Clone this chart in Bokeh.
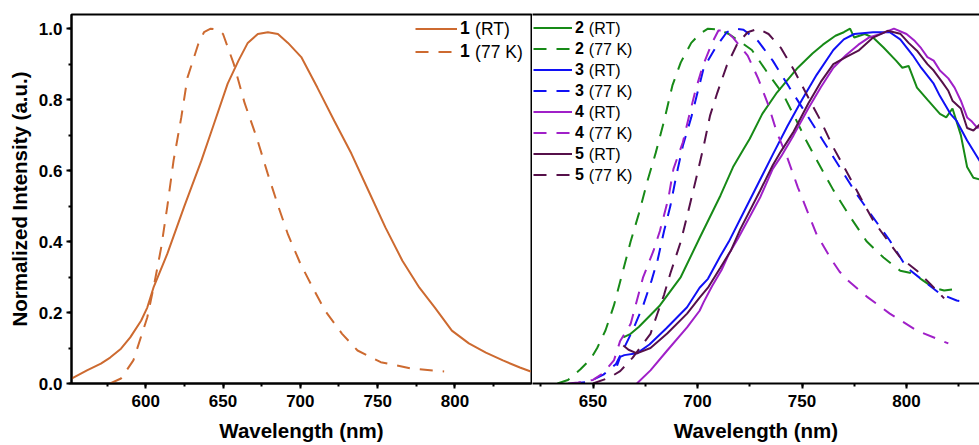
from bokeh.plotting import figure
from bokeh.models import (Range1d, SingleIntervalTicker, NumeralTickFormatter, Legend,
                          LegendItem, Label, LinearAxis, FixedTicker)
from bokeh.layouts import row
from bokeh.embed import file_html
from bokeh.resources import INLINE

# ---------------- data (wavelength nm, normalized intensity) ----------------
wl_1_rt = [552, 562, 571, 577, 584, 590, 597, 601, 605, 614, 625, 636, 644, 653, 660, 666,
           672.5, 679, 685.5, 692, 700.6, 711, 722, 733, 744, 755, 766, 777, 787, 798, 809,
           820, 831, 842, 849]
in_1_rt = [0.014, 0.037, 0.056, 0.073, 0.098, 0.13, 0.177, 0.214, 0.27, 0.366, 0.50, 0.628,
           0.73, 0.845, 0.91, 0.96, 0.985, 0.99, 0.985, 0.96, 0.92, 0.834, 0.74, 0.648,
           0.544, 0.44, 0.346, 0.27, 0.214, 0.149, 0.113, 0.087, 0.065, 0.045, 0.034]

wl_1_77 = [577, 584, 592, 601, 605.5, 610, 614, 618, 623, 627, 634, 637.7, 642, 646.8, 650,
           657, 664, 672, 679, 686, 692, 700, 709, 716, 727, 737, 752, 772, 793]
in_1_77 = [0.0, 0.014, 0.065, 0.186, 0.28, 0.383, 0.50, 0.628, 0.75, 0.862, 0.957, 0.99,
           1.0, 0.997, 0.985, 0.90, 0.79, 0.69, 0.59, 0.496, 0.42, 0.338, 0.262, 0.205,
           0.14, 0.093, 0.06, 0.042, 0.034]

wl_2_rt = [664.5, 668, 672, 682, 692, 701, 706, 711, 717, 722, 725, 731, 738, 748, 755,
           760, 766, 770, 773, 775, 780, 784, 789, 795, 798, 801, 805, 810, 816, 819, 822,
           826, 829, 832, 835, 840]
in_2_rt = [0.13, 0.14, 0.16, 0.22, 0.30, 0.41, 0.47, 0.53, 0.61, 0.66, 0.69, 0.76, 0.82,
           0.89, 0.93, 0.955, 0.98, 0.99, 1.0, 0.975, 0.985, 0.975, 0.947, 0.91, 0.89,
           0.895, 0.834, 0.80, 0.76, 0.75, 0.775, 0.70, 0.61, 0.58, 0.575, 0.57]

wl_2_77 = [633, 638, 644, 649, 652, 656, 660, 664, 668, 672, 676, 680, 684, 688, 692, 697,
           701, 705, 710, 715, 720, 726, 733, 741, 747, 752, 757, 765, 773, 781, 789, 797,
           803, 808, 813, 818, 824]
in_2_77 = [0.0, 0.01, 0.04, 0.07, 0.10, 0.15, 0.22, 0.31, 0.40, 0.48, 0.57, 0.65, 0.74,
           0.84, 0.905, 0.96, 0.985, 1.0, 0.998, 0.985, 0.965, 0.94, 0.88, 0.815, 0.745,
           0.685, 0.63, 0.545, 0.47, 0.40, 0.355, 0.318, 0.31, 0.29, 0.27, 0.262, 0.267]

wl_3_rt = [661.5, 663, 665, 671, 677, 685, 695, 701, 705, 711, 715, 721, 730, 736, 743,
           750, 757, 765, 770, 775, 784, 792, 797, 803, 807, 813, 816, 821, 824, 829, 834, 840]
in_3_rt = [0.05, 0.075, 0.08, 0.085, 0.11, 0.155, 0.215, 0.27, 0.295, 0.36, 0.40, 0.47,
           0.575, 0.645, 0.725, 0.80, 0.87, 0.94, 0.97, 0.985, 0.99, 0.99, 0.97, 0.925,
           0.89, 0.845, 0.81, 0.76, 0.74, 0.685, 0.637, 0.58]

wl_3_77 = [640, 648, 655, 661, 664, 669, 674, 678, 681, 684, 687, 690, 693, 697, 700, 703,
           709, 714, 718, 722, 729, 736, 744, 752, 760, 768, 776, 784, 792, 800, 808, 816,
           824, 828]
in_3_77 = [0.0, 0.005, 0.025, 0.055, 0.09, 0.15, 0.22, 0.29, 0.35, 0.43, 0.50, 0.59, 0.67,
           0.75, 0.82, 0.89, 0.95, 0.99, 1.0, 0.997, 0.965, 0.91, 0.834, 0.76, 0.685, 0.61,
           0.535, 0.468, 0.403, 0.327, 0.29, 0.253, 0.234, 0.23]

wl_4_rt = [671, 677.5, 685.5, 695, 701, 703, 707, 711.5, 715, 719.5, 725, 730, 736, 740,
           746, 753, 759, 765, 771, 777, 782, 788, 794, 800, 804, 807, 810, 813, 816, 820,
           823, 826, 829, 831, 834, 836, 840]
in_4_rt = [0.0, 0.037, 0.093, 0.158, 0.205, 0.23, 0.275, 0.32, 0.365, 0.41, 0.47, 0.525,
           0.605, 0.64, 0.70, 0.775, 0.835, 0.89, 0.925, 0.955, 0.975, 0.986, 1.0, 0.985,
           0.965, 0.945, 0.92, 0.91, 0.882, 0.86, 0.834, 0.797, 0.75, 0.74, 0.72, 0.73, 0.70]

wl_4_77 = [638, 643, 650, 655, 660, 663, 668, 671, 674, 679, 682, 686, 688.5, 693, 696,
           699, 702.5, 707, 710, 713, 717, 724, 729, 734, 738, 741, 743, 748, 753, 757, 764,
           768, 772, 781, 792, 805, 820]
in_4_77 = [0.0, 0.003, 0.01, 0.03, 0.065, 0.12, 0.168, 0.234, 0.30, 0.375, 0.43, 0.52,
           0.605, 0.68, 0.755, 0.825, 0.895, 0.96, 0.995, 0.995, 0.975, 0.924, 0.86, 0.783,
           0.707, 0.665, 0.636, 0.553, 0.479, 0.42, 0.35, 0.315, 0.29, 0.245, 0.197, 0.149,
           0.113]

wl_5_rt = [664.5, 667, 671, 677.5, 685.5, 695, 701, 705, 711, 716, 720.5, 730, 736, 740,
           746, 753, 759, 765, 771, 777, 784, 791, 797, 801, 805, 810, 813, 817, 820, 822,
           826, 829, 832, 835, 840]
in_5_rt = [0.107, 0.095, 0.085, 0.10, 0.141, 0.197, 0.242, 0.27, 0.327, 0.375, 0.435,
           0.544, 0.615, 0.655, 0.71, 0.789, 0.85, 0.90, 0.92, 0.938, 0.975, 0.994, 0.986,
           0.96, 0.938, 0.90, 0.882, 0.85, 0.825, 0.797, 0.775, 0.72, 0.713, 0.73, 0.70]

wl_5_77 = [650, 658, 663, 669, 677.5, 681, 684, 687, 692, 696.6, 700, 703, 706, 709.5,
           714, 719, 724, 729, 734, 740, 746, 753, 759, 765, 772, 778, 784, 791, 797, 805,
           811.5, 818]
in_5_77 = [0.0, 0.017, 0.035, 0.073, 0.14, 0.20, 0.25, 0.31, 0.40, 0.51, 0.594, 0.67,
           0.755, 0.82, 0.896, 0.957, 0.99, 1.0, 0.985, 0.945, 0.885, 0.806, 0.74, 0.665,
           0.59, 0.524, 0.46, 0.403, 0.355, 0.318, 0.28, 0.24]

x_title = "Wavelength (nm)"
y_title = "Normalized Intensity (a.u.)"

# ---------------- style ----------------
FONT = "Liberation Sans"
C1 = "#CD6A30"
C2 = "#178A17"
C3 = "#1010F5"
C4 = "#A020C8"
C5 = "#56104A"
LW = 2
DASH = "13 10"

H = 445
TOP = 14
BOTTOM = 62
FRAME_H = H - TOP - BOTTOM

yr = Range1d(0, 1.04)


def style_axis(ax):
    ax.axis_line_width = 2
    ax.axis_line_color = "black"
    ax.major_tick_line_width = 2
    ax.minor_tick_line_width = 2
    ax.major_tick_line_color = "black"
    ax.minor_tick_line_color = "black"
    ax.major_tick_in = 0
    ax.major_tick_out = 5
    ax.minor_tick_in = 0
    ax.minor_tick_out = 3
    ax.major_label_text_font = FONT
    ax.major_label_text_font_style = "bold"
    ax.major_label_text_font_size = "17px"
    ax.major_label_text_color = "black"
    ax.major_label_standoff = 6
    ax.axis_label_text_font = FONT
    ax.axis_label_text_font_style = "bold"
    ax.axis_label_text_font_size = "20.5px"
    ax.axis_label_text_color = "black"
    ax.axis_label_standoff = 9


def add_legend(p, renderers, numbers, suffixes, x0, glyph_w, row_h, top_gap, fs):
    items = [LegendItem(label=n, renderers=[r]) for n, r in zip(numbers, renderers)]
    n = len(items)
    leg = Legend(items=items, location=(x0, FRAME_H - top_gap - n * row_h),
                 glyph_width=glyph_w, glyph_height=row_h, label_height=row_h,
                 label_standoff=3, spacing=0, padding=0, margin=0,
                 border_line_color=None, background_fill_alpha=0,
                 label_text_font=FONT, label_text_font_size=f"{fs}px",
                 label_text_font_style="bold", label_text_color="black")
    p.add_layout(leg)
    for k, s in enumerate(suffixes):
        yc = FRAME_H - (top_gap + k * row_h + row_h / 2)
        p.add_layout(Label(x=x0 + glyph_w + 3 + 0.834 * fs, y=yc, x_units="screen",
                           y_units="screen", text=s, text_font=FONT,
                           text_font_size=f"{fs}px", text_baseline="middle",
                           text_align="left", text_color="black"))


# ---------------- left panel ----------------
p1 = figure(width=532, height=H, x_range=Range1d(552.0, 849.5), y_range=yr,
            output_backend="svg", toolbar_location=None,
            min_border_left=71, min_border_right=1, min_border_top=TOP,
            min_border_bottom=BOTTOM)
p1.xgrid.visible = False
p1.ygrid.visible = False
p1.outline_line_color = "black"
p1.outline_line_width = 2
p1.outline_line_alpha = 1
p1.background_fill_color = "white"
p1.border_fill_color = "white"
p1.xaxis.ticker = SingleIntervalTicker(interval=50, num_minor_ticks=2)
p1.yaxis.ticker = SingleIntervalTicker(interval=0.2, num_minor_ticks=2)
p1.yaxis.formatter = NumeralTickFormatter(format="0.0")
p1.xaxis.axis_label = x_title
p1.yaxis.axis_label = y_title
style_axis(p1.xaxis[0])
style_axis(p1.yaxis[0])
p1.yaxis[0].major_label_standoff = 4
p1.yaxis[0].axis_label_standoff = 5

r1a = p1.line(wl_1_rt, in_1_rt, line_color=C1, line_width=LW)
r1b = p1.line(wl_1_77, in_1_77, line_color=C1, line_width=LW, line_dash=DASH)
add_legend(p1, [r1a, r1b], ["1", "1"], ["(RT)", "(77 K)"], x0=344, glyph_w=42,
           row_h=23, top_gap=3, fs=17.5)

# ---------------- right panel ----------------
W2 = 447
x2_start = 621.05
p2 = figure(width=W2, height=H, x_range=Range1d(x2_start, x2_start + W2 / 2.09),
            y_range=yr, y_axis_location=None,
            output_backend="svg", toolbar_location=None,
            min_border_left=0, min_border_right=0, min_border_top=TOP,
            min_border_bottom=BOTTOM)
p2.xgrid.visible = False
p2.ygrid.visible = False
p2.outline_line_color = None
p2.background_fill_color = "white"
p2.border_fill_color = "white"
p2.xaxis.ticker = SingleIntervalTicker(interval=50, num_minor_ticks=2)
p2.xaxis.axis_label = x_title
style_axis(p2.xaxis[0])
top_axis = LinearAxis(ticker=FixedTicker(ticks=[]), major_tick_out=0, major_tick_in=0,
                      minor_tick_out=0, minor_tick_in=0, major_label_standoff=0,
                      axis_line_width=2, axis_line_color="black")
p2.add_layout(top_axis, "above")

series = [
    (wl_2_rt, in_2_rt, C2, None), (wl_2_77, in_2_77, C2, DASH),
    (wl_3_rt, in_3_rt, C3, None), (wl_3_77, in_3_77, C3, DASH),
    (wl_4_rt, in_4_rt, C4, None), (wl_4_77, in_4_77, C4, DASH),
    (wl_5_rt, in_5_rt, C5, None), (wl_5_77, in_5_77, C5, DASH),
]
rends = []
for xs, ys, c, d in series:
    if d is None:
        rends.append(p2.line(xs, ys, line_color=c, line_width=LW))
    else:
        rends.append(p2.line(xs, ys, line_color=c, line_width=LW, line_dash=d))

add_legend(p2, rends, ["2", "2", "3", "3", "4", "4", "5", "5"],
           ["(RT)", "(77 K)"] * 4, x0=1, glyph_w=39, row_h=21, top_gap=3, fs=16)

layout = row(p1, p2, spacing=0)
open("out.html", "w").write(file_html(layout, INLINE))
